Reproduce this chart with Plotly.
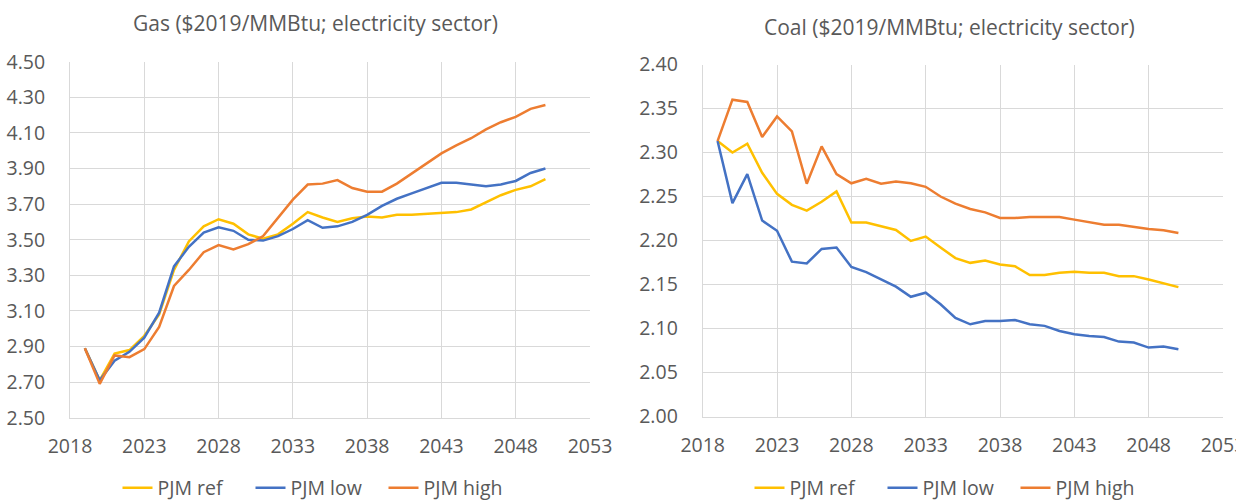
import plotly.graph_objects as go

years = list(range(2019, 2051))

gas_ref = [2.89, 2.71, 2.86, 2.88, 2.96, 3.08, 3.33, 3.49, 3.575, 3.615, 3.59, 3.53,
           3.505, 3.53, 3.59, 3.655, 3.625, 3.60, 3.62, 3.63, 3.625, 3.64, 3.64, 3.645,
           3.65, 3.655, 3.67, 3.71, 3.75, 3.78, 3.80, 3.84]
gas_low = [2.89, 2.71, 2.82, 2.87, 2.95, 3.09, 3.35, 3.46, 3.54, 3.57, 3.55, 3.50,
           3.495, 3.52, 3.56, 3.61, 3.567, 3.575, 3.60, 3.64, 3.69, 3.73, 3.76, 3.79,
           3.82, 3.82, 3.81, 3.80, 3.81, 3.83, 3.875, 3.90]
gas_high = [2.89, 2.69, 2.85, 2.84, 2.885, 3.01, 3.24, 3.33, 3.43, 3.47, 3.445, 3.475,
            3.52, 3.62, 3.725, 3.81, 3.815, 3.835, 3.79, 3.77, 3.77, 3.815, 3.87, 3.93,
            3.985, 4.03, 4.07, 4.12, 4.16, 4.19, 4.235, 4.257]

coal_ref = [2.313, 2.300, 2.310, 2.277, 2.253, 2.2405, 2.234, 2.244, 2.2557, 2.2204, 2.2204, 2.216,
            2.212, 2.1995, 2.2045, 2.192, 2.180, 2.1746, 2.1773, 2.1727, 2.1708, 2.1607,
            2.1607, 2.1633, 2.1644, 2.1633, 2.1633, 2.1595, 2.1595, 2.1557, 2.1512, 2.147]
coal_low = [2.313, 2.2425, 2.2755, 2.2227, 2.211, 2.176, 2.174, 2.1904, 2.192, 2.170, 2.164, 2.156,
            2.1475, 2.136, 2.1407, 2.1275, 2.112, 2.1048, 2.1085, 2.1085, 2.1097, 2.1048,
            2.103, 2.0972, 2.0934, 2.0915, 2.0904, 2.0851, 2.084, 2.0783, 2.0795, 2.0764]
coal_high = [2.313, 2.360, 2.3575, 2.3176, 2.341, 2.324, 2.2645, 2.307, 2.2755, 2.265, 2.270, 2.2645,
             2.267, 2.265, 2.261, 2.250, 2.2418, 2.2358, 2.232, 2.2256, 2.2256, 2.2267,
             2.2267, 2.2267, 2.2237, 2.2207, 2.218, 2.218, 2.2154, 2.2131, 2.2116, 2.2086]

series_names = ["PJM ref", "PJM low", "PJM high"]
colors = ["#FFC000", "#4472C4", "#ED7D31"]

gas_ticks = [2.5, 2.7, 2.9, 3.1, 3.3, 3.5, 3.7, 3.9, 4.1, 4.3, 4.5]
coal_ticks = [2.00, 2.05, 2.10, 2.15, 2.20, 2.25, 2.30, 2.35, 2.40]
year_ticks = [2018, 2023, 2028, 2033, 2038, 2043, 2048, 2053]

W, H = 1236, 500
FONT = "'Open Sans', sans-serif"
TXT = "#595959"
GRID = "#D9D9D9"

fig = go.Figure()
for name, col, vals in zip(series_names, colors, [gas_ref, gas_low, gas_high]):
    fig.add_trace(go.Scatter(x=years, y=vals, name=name, mode="lines",
                             line=dict(color=col, width=2.5), xaxis="x", yaxis="y",
                             legend="legend"))
for name, col, vals in zip(series_names, colors, [coal_ref, coal_low, coal_high]):
    fig.add_trace(go.Scatter(x=years, y=vals, name=name, mode="lines",
                             line=dict(color=col, width=2.5), xaxis="x2", yaxis="y2",
                             legend="legend2"))

def xa(dom):
    return dict(domain=dom, range=[2018, 2053], tickvals=year_ticks, showgrid=True,
                gridcolor=GRID, gridwidth=1, zeroline=False, showline=True,
                linecolor=GRID, linewidth=1, ticks="", ticklabelstandoff=11,
                automargin=False, ticklabeloverflow="allow",
                tickfont=dict(family=FONT, size=19.5, color=TXT), fixedrange=True)

def ya(dom, ticks, rng, fmt):
    return dict(domain=dom, range=rng, tickvals=ticks, tickformat=fmt, showgrid=True,
                gridcolor=GRID, gridwidth=1, zeroline=False, showline=True,
                linecolor=GRID, linewidth=1, ticks="", ticklabelstandoff=20,
                automargin=False,
                tickfont=dict(family=FONT, size=19.5, color=TXT), fixedrange=True)

leg = dict(orientation="h", xanchor="center", y=1 - 488 / H, yanchor="middle",
           entrywidth=88, entrywidthmode="pixels",
           font=dict(family=FONT, size=19.5, color=TXT), bgcolor="rgba(0,0,0,0)")

fig.update_layout(
    width=W, height=H,
    margin=dict(l=0, r=0, t=0, b=0, autoexpand=False),
    paper_bgcolor="white", plot_bgcolor="white",
    xaxis=xa([70 / W, 590 / W]),
    yaxis=ya([1 - 417.7 / H, 1 - 61.7 / H], gas_ticks, [2.5, 4.5], ".2f"),
    xaxis2=dict(xa([702.7 / W, 1223 / W]), anchor="y2"),
    yaxis2=dict(ya([1 - 416.5 / H, 1 - 64.5 / H], coal_ticks, [2.0, 2.4], ".2f"), anchor="x2"),
    legend=dict(leg, x=317 / W),
    legend2=dict(leg, x=949 / W),
    annotations=[
        dict(text="Gas ($2019/MMBtu; electricity sector)", x=315 / W, y=1 - 23 / H,
             xref="paper", yref="paper", showarrow=False, xanchor="center", yanchor="middle",
             font=dict(family=FONT, size=21, color=TXT)),
        dict(text="Coal ($2019/MMBtu; electricity sector)", x=949 / W, y=1 - 27 / H,
             xref="paper", yref="paper", showarrow=False, xanchor="center", yanchor="middle",
             font=dict(family=FONT, size=21, color=TXT)),
    ],
)

fig.write_html("out.html", config={"displayModeBar": False},
               post_script="document.body.style.margin='0';")
